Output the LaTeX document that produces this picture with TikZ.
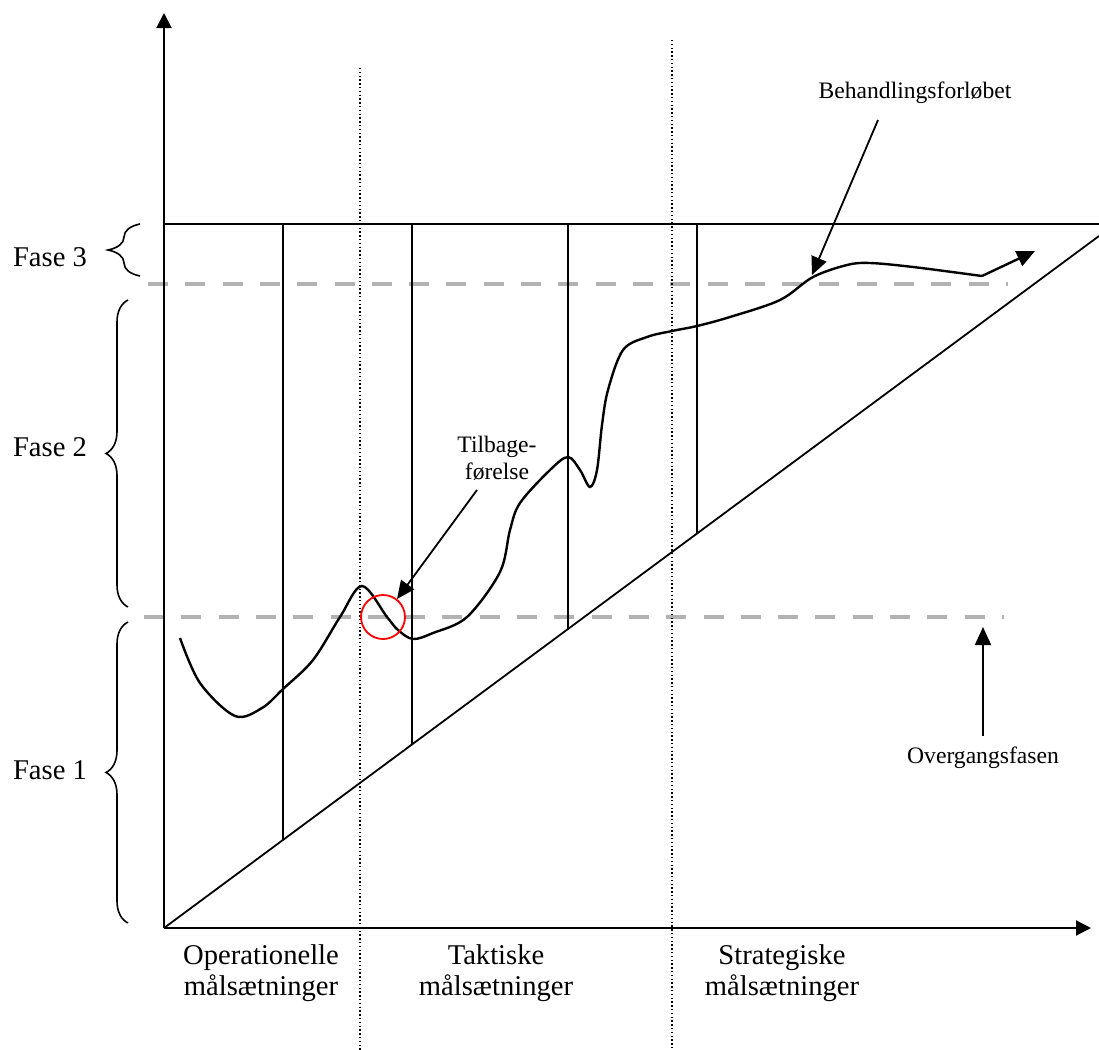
\documentclass[tikz,border=0pt]{standalone}
\usepackage{fontspec}
\setmainfont{Liberation Serif}
\usetikzlibrary{arrows.meta,decorations.pathreplacing}

\tikzset{
  fase/.style={font=\fontsize{14.3}{15.5}\selectfont},
  etiqueta/.style={font=\fontsize{11.8}{13.5}\selectfont},
  eje/.style={line width=1pt, -{Triangle[length=7.5pt,width=7.5pt]}},
  linea/.style={line width=0.9pt},
  curva/.style={line width=1.2pt},
  limite/.style={gray!60, line width=2pt, dash pattern=on 10pt off 8.65pt},
  divisor/.style={line width=0.7pt, dash pattern=on 0.7pt off 1.2pt},
  llave/.style={decorate, decoration={brace, amplitude=#1}, line width=0.8pt},
  flecha/.style={line width=0.9pt, -{Triangle[length=9pt,width=8pt]}},
}

\begin{document}
\begin{tikzpicture}[x=0.5pt,y=-0.5pt]
            \useasboundingbox (0,0) rectangle (1099,1050);

            % Limites entre las fases (lineas grises)
            \draw[limite] (148,284) -- (1008,284);
            \draw[limite] (144,617) -- (1004,617);

            % Divisiones punteadas
            \draw[divisor] (360,68) -- (360,1050);
            \draw[divisor] (672,40) -- (672,1050);

            % Ejes
            \coordinate (O) at (164,928);
            \coordinate (ytop) at (164,13);
            \coordinate (xend) at (1091,928);
            \draw[eje] (O) -- (ytop);
            \draw[eje] (O) -- (xend);

            % Linea superior y diagonal
            \draw[linea] (164,224) -- (1099,224);
            \draw[linea] (O) -- (1099,236);

            % Lineas verticales hasta la diagonal
            \foreach \x in {283,412,568,697}
                \draw[linea] (\x,224) -- (\x,{928-0.74*(\x-164)});

            % Curva del tratamiento
            \draw[curva] plot[smooth, tension=0.55] coordinates {
                (180,638) (200,683) (235,716) (262,708) (283,689) (313,660)
                (340,617) (362,586) (387,617) (398,630) (413,639) (433,633)
                (467,617) (500,572) (510,530) (520,503) (550,470) (568,457)
                (580,470) (590,487) (597,470) (602,425) (608,390) (623,350)
                (647,337) (672,331) (697,326) (730,317) (780,300) (813,277)
                (847,265) (870,263) (913,267) (982,276)};
            \draw[curva, -{Triangle[length=9pt,width=8pt]}] (982,276) -- (1035,251);

            % Circulo rojo
            \node[circle, draw=red, line width=0.9pt, minimum size=22pt, inner sep=0pt] (retro) at (383,617) {};

            % Llaves de las fases
            \draw[llave=16pt] (140,276) -- (140,224);
            \draw[llave=11pt] (128,607) -- (128,300);
            \draw[llave=11pt] (128,923) -- (128,622);

            % Etiquetas de las fases
            \node[fase] (f3) at (50,257) {Fase 3};
            \node[fase] (f2) at (50,447) {Fase 2};
            \node[fase] (f1) at (50,770) {Fase 1};

            % Etiquetas del eje horizontal
            \node[fase, align=center] (oper) at (261,973) {Operationelle\\målsætninger};
            \node[fase, align=center] (takt) at (496,973) {Taktiske\\målsætninger};
            \node[fase, align=center] (strat) at (782,973) {Strategiske\\målsætninger};

            % Anotaciones con flechas
            \node[etiqueta] (beh) at (915,93) {Behandlingsforløbet};
            \node[etiqueta, align=center] (tilb) at (497,458) {Tilbage-\\førelse};
            \node[etiqueta] (overg) at (983,758) {Overgangsfasen};
            \coordinate (behA) at (878,120);
            \coordinate (behB) at (812,275);
            \coordinate (tilbA) at (477,490);
            \coordinate (tilbB) at (397,599);
            \coordinate (overgA) at (983,736);
            \coordinate (overgB) at (983,627);
            \draw[flecha] (behA) -- (behB);
            \draw[flecha] (tilbA) -- (tilbB);
            \draw[flecha] (overgA) -- (overgB);
        \end{tikzpicture}
\end{document}
